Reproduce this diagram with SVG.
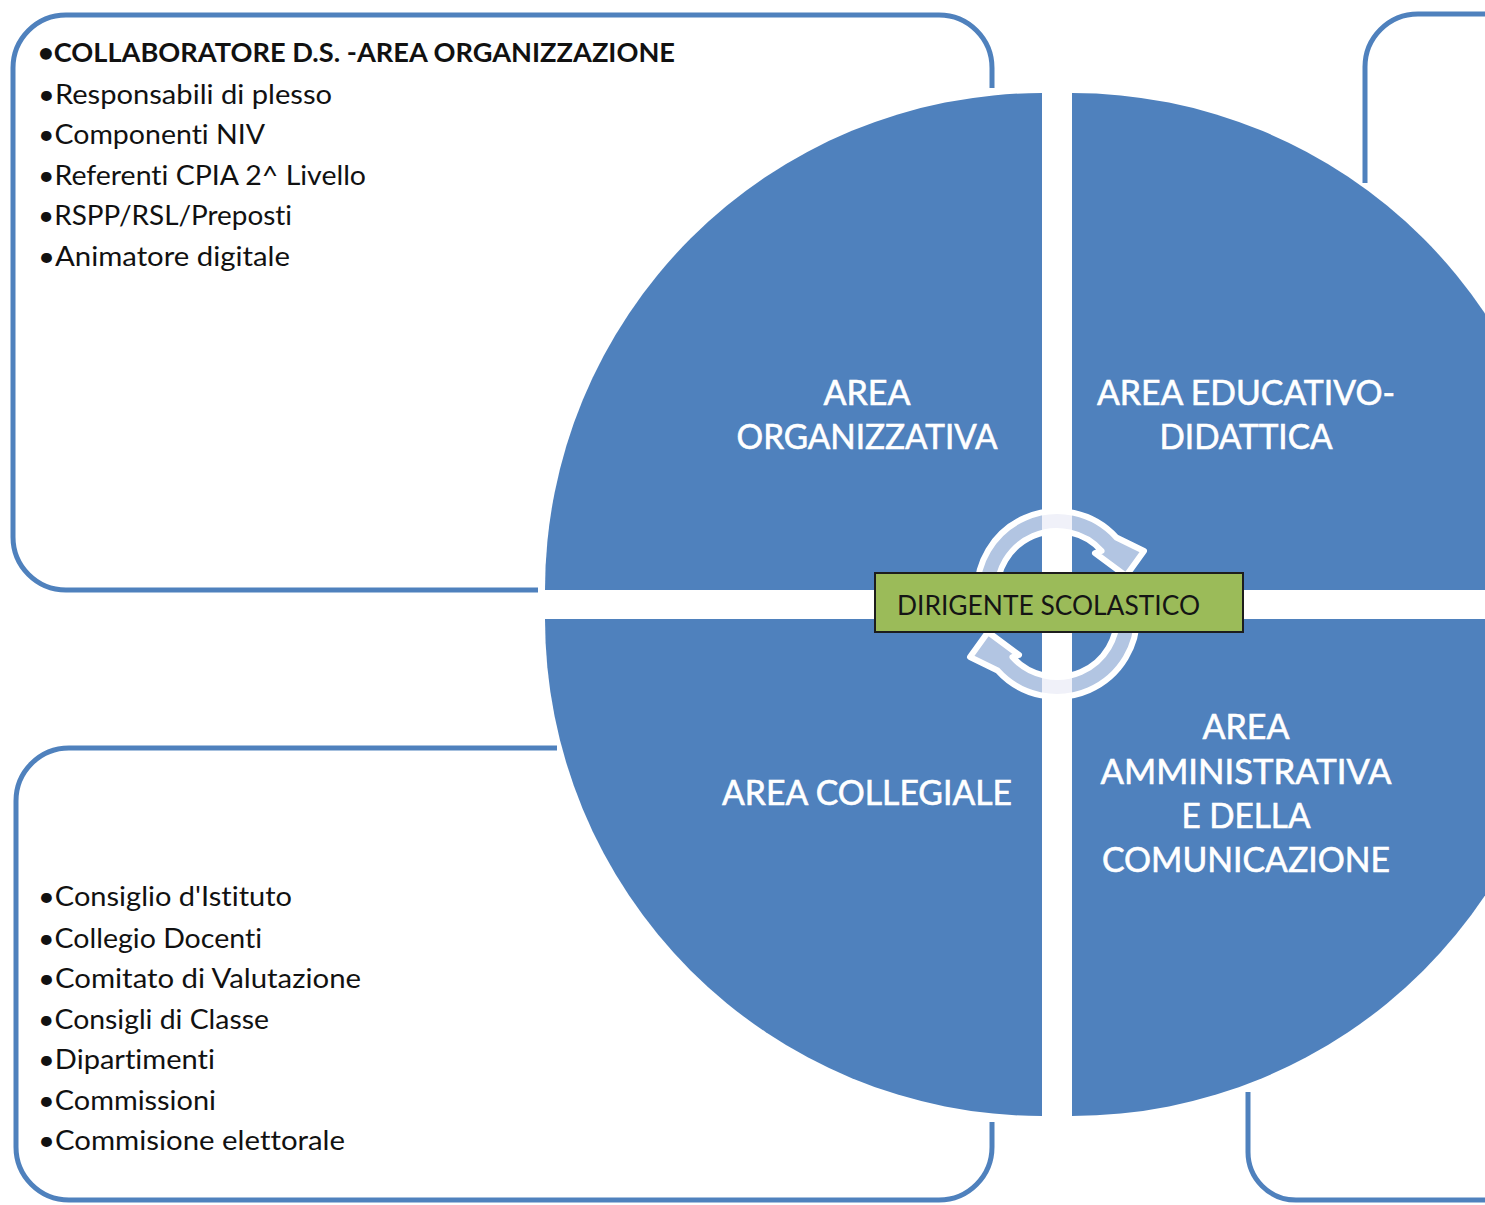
<svg xmlns="http://www.w3.org/2000/svg" width="1485" height="1205" viewBox="0 0 1485 1205">
  <defs>
    <style>
      text { font-variant-ligatures: none; font-feature-settings: "liga" 0, "clig" 0; }
      .frame { fill: none; stroke: #4F81BD; stroke-width: 5; stroke-linecap: butt; }
      .quad { fill: #4F81BD; }
      .cycle { fill: #E8EAF6; fill-opacity: 0.65; stroke: #FFFFFF; stroke-width: 6; stroke-linejoin: round; }
      .qlabel { font-family: Lato, "Open Sans", sans-serif; font-size: 34px; fill: #FFFFFF; stroke: #FFFFFF; stroke-width: 0.6; text-anchor: middle; }
      .item { font-family: Lato, "Open Sans", sans-serif; font-size: 27px; fill: #111111; }
      .title { font-weight: bold; }
      .center { font-family: Lato, "Open Sans", sans-serif; font-size: 27px; fill: #151515; }
    </style>
    <path id="cycleArrow" d="M 977.3 598 A 80 80 0 0 1 1116.4 537.5 L 1144 551 L 1126 576 L 1095 553 L 1101.6 550.9 A 60 60 0 0 0 997.2 596.2 Z"/>
  </defs>

  <rect width="1485" height="1205" fill="#FFFFFF"/>

  <!-- side frames around the circle -->
  <g id="connectors">
    <path class="frame" d="M 538 590 H 66 A 53 53 0 0 1 13 537 V 68 A 53 53 0 0 1 66 15 H 939 A 53 53 0 0 1 992 68 V 88"/>
    <path class="frame" d="M 1365 183 V 67 A 53 53 0 0 1 1418 14 H 1490"/>
    <path class="frame" d="M 557 748 H 69 A 53 53 0 0 0 16 801 V 1147 A 53 53 0 0 0 69 1200 H 939 A 53 53 0 0 0 992 1147 V 1122"/>
    <path class="frame" d="M 1248 1092 V 1152 A 48 48 0 0 0 1296 1200 H 1490"/>
  </g>

  <!-- four quarter sectors -->
  <g id="area-organizzativa">
    <path class="quad" d="M 1042 590 H 545 A 497 497 0 0 1 1042 93 Z"/>
    <text class="qlabel" x="867" y="405" textLength="87" lengthAdjust="spacingAndGlyphs">AREA</text>
    <text class="qlabel" x="867" y="449" textLength="261" lengthAdjust="spacingAndGlyphs">ORGANIZZATIVA</text>
  </g>
  <g id="area-educativo-didattica">
    <path class="quad" d="M 1072 590 V 93 A 497 497 0 0 1 1569 590 Z"/>
    <text class="qlabel" x="1246" y="405" textLength="298" lengthAdjust="spacingAndGlyphs">AREA EDUCATIVO-</text>
    <text class="qlabel" x="1246" y="449" textLength="173" lengthAdjust="spacingAndGlyphs">DIDATTICA</text>
  </g>
  <g id="area-collegiale">
    <path class="quad" d="M 1042 619 V 1116 A 497 497 0 0 1 545 619 Z"/>
    <text class="qlabel" x="867" y="805" textLength="290" lengthAdjust="spacingAndGlyphs">AREA COLLEGIALE</text>
  </g>
  <g id="area-amministrativa">
    <path class="quad" d="M 1072 619 H 1569 A 497 497 0 0 1 1072 1116 Z"/>
    <text class="qlabel" x="1246" y="739" textLength="87" lengthAdjust="spacingAndGlyphs">AREA</text>
    <text class="qlabel" x="1246" y="784" textLength="291" lengthAdjust="spacingAndGlyphs">AMMINISTRATIVA</text>
    <text class="qlabel" x="1246" y="828" textLength="129" lengthAdjust="spacingAndGlyphs">E DELLA</text>
    <text class="qlabel" x="1246" y="872" textLength="288" lengthAdjust="spacingAndGlyphs">COMUNICAZIONE</text>
  </g>

  <!-- circular arrows around the centre -->
  <g id="cycle">
    <use href="#cycleArrow" class="cycle"/>
    <use href="#cycleArrow" class="cycle" transform="rotate(180 1057 604)"/>
  </g>

  <g id="dirigente">
    <rect x="875" y="573" width="368" height="59" fill="#9BBB59" stroke="#1d1d1d" stroke-width="2"/>
    <text class="center" x="897" y="615" textLength="303" lengthAdjust="spacingAndGlyphs">DIRIGENTE SCOLASTICO</text>
  </g>

  <!-- lists -->
  <g id="list-organizzazione">
    <text class="item title" x="38" y="62" textLength="637" lengthAdjust="spacingAndGlyphs">•COLLABORATORE D.S. -AREA ORGANIZZAZIONE</text>
    <text class="item" x="38" y="104" textLength="294" lengthAdjust="spacingAndGlyphs">•Responsabili di plesso</text>
    <text class="item" x="38" y="144" textLength="227" lengthAdjust="spacingAndGlyphs">•Componenti NIV</text>
    <text class="item" x="38" y="185" textLength="328" lengthAdjust="spacingAndGlyphs">•Referenti CPIA 2^ Livello</text>
    <text class="item" x="38" y="225" textLength="254" lengthAdjust="spacingAndGlyphs">•RSPP/RSL/Preposti</text>
    <text class="item" x="38" y="266" textLength="252" lengthAdjust="spacingAndGlyphs">•Animatore digitale</text>
  </g>
  <g id="list-collegiale">
    <text class="item" x="38" y="906" textLength="254" lengthAdjust="spacingAndGlyphs">•Consiglio d'Istituto</text>
    <text class="item" x="38" y="948" textLength="224" lengthAdjust="spacingAndGlyphs">•Collegio Docenti</text>
    <text class="item" x="38" y="988" textLength="323" lengthAdjust="spacingAndGlyphs">•Comitato di Valutazione</text>
    <text class="item" x="38" y="1029" textLength="231" lengthAdjust="spacingAndGlyphs">•Consigli di Classe</text>
    <text class="item" x="38" y="1069" textLength="177" lengthAdjust="spacingAndGlyphs">•Dipartimenti</text>
    <text class="item" x="38" y="1110" textLength="178" lengthAdjust="spacingAndGlyphs">•Commissioni</text>
    <text class="item" x="38" y="1150" textLength="307" lengthAdjust="spacingAndGlyphs">•Commisione elettorale</text>
  </g>
</svg>
